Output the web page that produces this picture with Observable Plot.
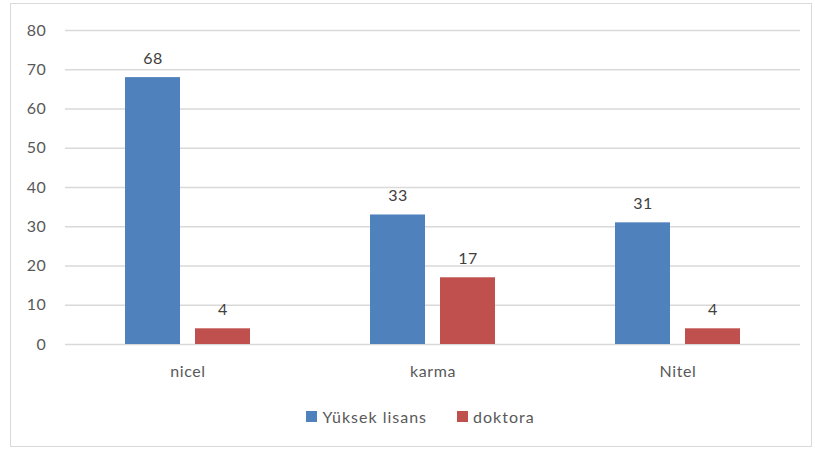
<!DOCTYPE html>
<html><head><meta charset="utf-8">
<script src="https://cdn.jsdelivr.net/npm/d3@7"></script>
<script src="https://cdn.jsdelivr.net/npm/@observablehq/plot@0.6"></script>
<style>
body{margin:0;background:#fff;}
#frame{position:absolute;left:10px;top:3px;width:802px;height:444px;border:1.5px solid #d9d9d9;box-sizing:border-box;}
#chart{position:absolute;left:0;top:0;}
#legend{position:absolute;left:0;top:400px;width:815px;box-sizing:border-box;padding-left:56px;display:flex;justify-content:center;}
#legend [class$="-swatch"]{letter-spacing:1px;margin-right:30px !important;}
#legend [class$="-swatch"] svg{margin-right:5px !important;}
</style></head><body>
<div id="frame"></div><div id="chart"></div><div id="legend"></div>
<script>
const categories = ["nicel", "karma", "Nitel"];
const series = ["Yüksek lisans", "doktora"];
const yuksekLisans = [68, 33, 31];
const doktora = [4, 17, 4];
const colors = ["#4F81BD", "#C0504D"];
const yTicks = [0, 10, 20, 30, 40, 50, 60, 70, 80];

const data = categories.flatMap((c, i) => [
  {cat: c, s: series[0], v: yuksekLisans[i]},
  {cat: c, s: series[1], v: doktora[i]}
]);

const font = "Lato, 'Open Sans', sans-serif";
const chart = Plot.plot({
  width: 815, height: 395,
  marginLeft: 65, marginRight: 15, marginTop: 30, marginBottom: 51,
  style: {fontFamily: font, fontSize: "16px", color: "#595959", background: "transparent", overflow: "visible", letterSpacing: "0.6px"},
  fx: {domain: categories, padding: 0, label: null},
  x: {domain: series, paddingInner: 0.214, paddingOuter: 0.857, axis: null},
  y: {domain: [0, 80], label: null},
  color: {domain: series, range: colors},
  marks: [
    Plot.gridY(yTicks, {stroke: "#d9d9d9", strokeOpacity: 1, strokeWidth: 1.3}),
    Plot.barY(data, {fx: "cat", x: "s", y: "v", fill: "s"}),
    Plot.text(data, {fx: "cat", x: "s", y: "v", text: "v", dy: -14, lineAnchor: "bottom", fill: "#404040", fontSize: 16}),
    Plot.axisY({ticks: yTicks, tickSize: 0, tickPadding: 19, label: null, fill: "#595959"}),
    Plot.axisFx({anchor: "bottom", tickSize: 0, tickPadding: 21, label: null, fill: "#595959"})
  ]
});
document.getElementById("chart").appendChild(chart);

const legend = Plot.legend({
  color: {domain: series, range: colors},
  legend: "swatches",
  swatchSize: 11,
  style: {fontFamily: font, fontSize: "16px", color: "#595959"}
});
document.getElementById("legend").appendChild(legend);
</script>
</body></html>
